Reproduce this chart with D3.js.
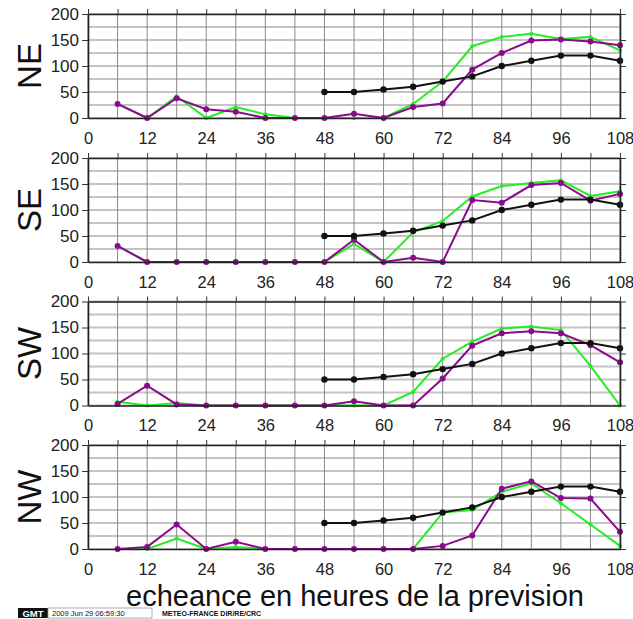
<!DOCTYPE html>
<html><head><meta charset="utf-8">
<script src="https://cdn.jsdelivr.net/npm/d3@7"></script>
<style>body{margin:0;background:#fff}svg{display:block}</style>
</head><body>
<svg id="c" width="633" height="619"></svg>
<script>
const hours = [6,12,18,24,30,36,42,48,54,60,66,72,78,84,90,96,102,108];
const refHours = [48,54,60,66,72,78,84,90,96,102,108];
const refValues = [50,50,55,60,70,80,100,110,120,120,110];
const panels = ["NE","SE","SW","NW"];
const greenValues = {
  NE:[27,0,42,0,21,7,0,0,0,0,27,70,138,156,162,152,156,130],
  SE:[31,0,0,0,0,0,0,0,35,0,57,79,126,146,152,157,127,136],
  SW:[7,0,5,0,0,0,0,0,0,0,26,90,123,148,152,145,76,0],
  NW:[0,0,20,0,4,0,0,0,0,0,0,70,75,110,126,88,47,6]
};
const purpleValues = {
  NE:[27,0,38,17,12,0,0,0,8,0,21,28,93,125,149,151,147,140],
  SE:[31,0,0,0,0,0,0,0,43,0,8,0,119,114,148,152,118,131],
  SW:[3,38,2,0,0,0,0,0,8,0,0,52,115,139,143,139,116,83],
  NW:[0,4,47,0,14,0,0,0,0,0,0,6,26,116,130,98,97,33]
};
const xTicks = [0,12,24,36,48,60,72,84,96,108];
const yTicks = [0,50,100,150,200];
const xLabel = "echeance en heures de la prevision";
const footerDate = "2009 Jun 29 06:59:30";
const footerOrg = "METEO-FRANCE DIR/RE/CRC";

const svg = d3.select("#c");
const X0 = 88, X1 = 620, PH = 104;
const tops = [14, 158, 301.5, 445];
const x = d3.scaleLinear().domain([0,108]).range([X0,X1]);
const grid6 = d3.range(0,109,6);
const grid25 = d3.range(0,201,25);
const FONT = "'Liberation Sans', Arial, sans-serif";

panels.forEach((p,i)=>{
  const top = tops[i];
  const y = d3.scaleLinear().domain([0,200]).range([top+PH, top]);
  const g = svg.append("g");
  g.selectAll(".hg").data(grid25).join("line")
    .attr("x1",X0).attr("x2",X1).attr("y1",d=>y(d)).attr("y2",d=>y(d))
    .attr("stroke","#c4c4c4").attr("stroke-width",2);
  g.selectAll(".vg").data(grid6).join("line")
    .attr("x1",d=>x(d)).attr("x2",d=>x(d)).attr("y1",top).attr("y2",top+PH)
    .attr("stroke","#8a8a8a").attr("stroke-width",1);
  const ax = (gen, tr) => {
    const a = svg.append("g").attr("transform",tr).call(gen);
    a.select(".domain").attr("stroke","#222").attr("stroke-width",1.6);
    a.selectAll(".tick line").attr("stroke","#333").attr("stroke-width",1);
    a.selectAll("text").attr("font-family",FONT).attr("fill","#222");
    return a;
  };
  ax(d3.axisLeft(y).tickValues(yTicks).tickSize(6).tickPadding(3).tickSizeOuter(0), `translate(${X0},0)`)
    .selectAll("text").attr("font-size",17);
  ax(d3.axisRight(y).tickValues(yTicks).tickSize(6).tickFormat("").tickSizeOuter(0), `translate(${X1},0)`);
  ax(d3.axisTop(x).tickValues(grid6).tickSize(5).tickFormat("").tickSizeOuter(0), `translate(0,${top})`);
  ax(d3.axisBottom(x).tickValues(xTicks).tickSize(0).tickPadding(14).tickSizeOuter(0), `translate(0,${top+PH})`)
    .selectAll("text").attr("font-size",16.5);
  svg.append("text").attr("transform",`translate(41,${top+PH/2}) rotate(-90)`)
    .attr("text-anchor","middle").attr("font-family",FONT).attr("font-size",33)
    .attr("fill","#111").text(p);

  const line = d3.line().x(d=>x(d[0])).y(d=>y(d[1]));
  const series = [
    {pts: hours.map((h,k)=>[h,greenValues[p][k]]), c:"#22ee22", r:2},
    {pts: hours.map((h,k)=>[h,purpleValues[p][k]]), c:"#8c0a8c", r:3},
    {pts: refHours.map((h,k)=>[h,refValues[k]]), c:"#111", r:3.2}
  ];
  series.forEach(s=>{
    g.append("path").attr("d",line(s.pts)).attr("fill","none")
      .attr("stroke",s.c).attr("stroke-width",2);
    g.selectAll(null).data(s.pts).join("circle")
      .attr("cx",d=>x(d[0])).attr("cy",d=>y(d[1])).attr("r",s.r).attr("fill",s.c);
  });
});

svg.append("text").attr("x",355).attr("y",606).attr("text-anchor","middle")
  .attr("font-family",FONT).attr("font-size",29).attr("fill","#111").text(xLabel);

// footer
const fy = 608;
svg.append("rect").attr("x",18).attr("y",fy).attr("width",30).attr("height",10).attr("fill","#111");
svg.append("text").attr("x",33).attr("y",fy+8.5).attr("text-anchor","middle")
  .attr("font-family",FONT).attr("font-size",9.5).attr("font-weight","bold").attr("fill","#fff").text("GMT");
svg.append("rect").attr("x",48).attr("y",fy).attr("width",104).attr("height",10)
  .attr("fill","#fff").attr("stroke","#999").attr("stroke-width",0.8);
svg.append("text").attr("x",52).attr("y",fy+8)
  .attr("font-family",FONT).attr("font-size",7.5).attr("fill","#111").text(footerDate);
svg.append("text").attr("x",162).attr("y",fy+8)
  .attr("font-family",FONT).attr("font-size",7).attr("font-weight","bold").attr("fill","#111").text(footerOrg);
</script>
</body></html>
